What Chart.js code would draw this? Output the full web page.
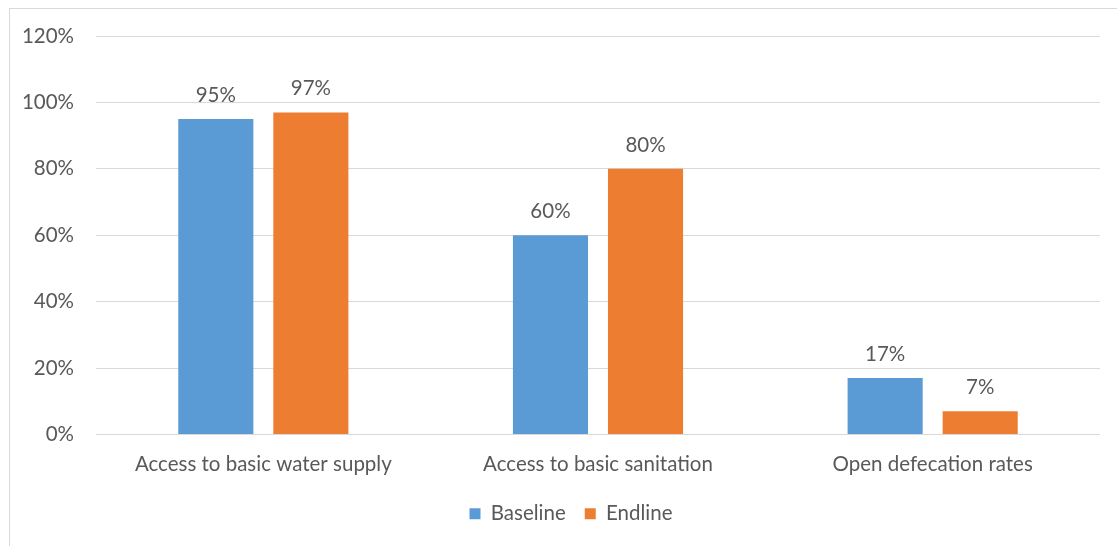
<!DOCTYPE html>
<html>
<head>
<meta charset="utf-8">
<script src="https://cdn.jsdelivr.net/npm/chart.js@4.4.1/dist/chart.umd.min.js"></script>
<style>
  html, body { margin: 0; padding: 0; background: #ffffff; overflow: hidden; }
  #wrap { position: absolute; left: 0; top: 0; width: 1117px; height: 546px; }
  #frame { position: absolute; left: 9px; top: 8px; width: 1200px; height: 600px;
           border-left: 1px solid #d9d9d9; border-top: 1px solid #d9d9d9; box-sizing: border-box; }
  canvas { position: absolute; left: 0; top: 0; }
</style>
</head>
<body>
<div id="wrap">
  <div id="frame"></div>
  <canvas id="c" width="1117" height="546"></canvas>
</div>
<script>
const categories = ["Access to basic water supply", "Access to basic sanitation", "Open defecation rates"];
const seriesNames = ["Baseline", "Endline"];
const baselineValues = [95, 60, 17];
const endlineValues = [97, 80, 7];
const yTickMax = 120;
const yTickStep = 20;

const textColor = '#595959';
const fontFamily = "Lato, 'Open Sans', 'Liberation Sans', sans-serif";
const fontSize = 20.5;

const valueLabels = {
  id: 'valueLabels',
  afterDatasetsDraw(chart) {
    const ctx = chart.ctx;
    ctx.save();
    ctx.fillStyle = textColor;
    ctx.font = fontSize + "px " + fontFamily;
    ctx.textAlign = 'center';
    ctx.textBaseline = 'alphabetic';
    chart.data.datasets.forEach((ds, di) => {
      const meta = chart.getDatasetMeta(di);
      meta.data.forEach((bar, i) => {
        ctx.fillText(ds.data[i] + '%', bar.x, bar.y - 17);
      });
    });
    ctx.restore();
  }
};

// Shift the legend to the right so it is centred like the reference
const legendShift = {
  id: 'legendShift',
  afterLayout(chart) {
    if (chart.legend) { chart.legend.left += 42; }
  }
};

new Chart(document.getElementById('c'), {
  type: 'bar',
  data: {
    labels: categories,
    datasets: [
      { label: seriesNames[0], data: baselineValues, backgroundColor: '#5B9BD5', categoryPercentage: 0.568, barPercentage: 0.79 },
      { label: seriesNames[1], data: endlineValues, backgroundColor: '#ED7D31', categoryPercentage: 0.568, barPercentage: 0.79 }
    ]
  },
  options: {
    responsive: false,
    animation: false,
    devicePixelRatio: 1,
    layout: { padding: { left: 0, right: 17, top: 36, bottom: 12 } },
    plugins: {
      legend: {
        position: 'bottom',
        labels: {
          boxWidth: 11, boxHeight: 11, padding: 19,
          color: textColor,
          font: { size: fontSize, family: fontFamily }
        }
      },
      tooltip: { enabled: false }
    },
    scales: {
      x: {
        grid: { display: false, drawTicks: false },
        border: { display: false },
        ticks: { color: textColor, font: { size: fontSize, family: fontFamily }, padding: 18, maxRotation: 0 },
        afterFit(scale) { scale.height = 50; }
      },
      y: {
        min: 0, max: yTickMax,
        grid: { color: '#d9d9d9', lineWidth: 1, drawTicks: false },
        border: { display: false },
        ticks: {
          stepSize: yTickStep,
          color: textColor,
          font: { size: fontSize, family: fontFamily },
          padding: 22,
          callback: v => v + '%'
        },
        afterFit(scale) { scale.width = 96; }
      }
    }
  },
  plugins: [valueLabels, legendShift]
});
</script>
</body>
</html>
